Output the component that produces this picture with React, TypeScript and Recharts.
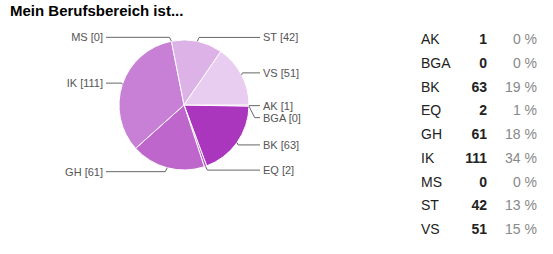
import React from 'react';
import { PieChart, Pie, Cell } from 'recharts';

const categories = ['AK', 'BGA', 'BK', 'EQ', 'GH', 'IK', 'MS', 'ST', 'VS'];
const counts = [1, 0, 63, 2, 61, 111, 0, 42, 51];
const percents = ['0 %', '0 %', '19 %', '1 %', '18 %', '34 %', '0 %', '13 %', '15 %'];
const colors = ['#8e24aa', '#9c2db5', '#aa36bd', '#b44fc5', '#bf66cc', '#c87fd6', '#d399de', '#ddb2e6', '#e9cdf0'];

const data = categories.map((name, i) => ({ name, value: counts[i] }));

const FONT = '"Liberation Sans", Arial, sans-serif';

// simple collision handling for labels, filled in render order
let placed: { side: number; y: number }[] = [];

const renderLabel = (props: any) => {
    const { cx, cy, midAngle, outerRadius, index, name, value } = props;
    if (index === 0) placed = [];
    const rad = (-midAngle * Math.PI) / 180;
    const cos = Math.cos(rad);
    const sin = Math.sin(rad);
    const side = cos >= 0 ? 1 : -1;
    const ax = cx + outerRadius * cos;
    const ay = cy + outerRadius * sin;
    let ly = cy + (outerRadius + 4) * sin;
    for (const p of placed) {
        if (p.side === side && Math.abs(p.y - ly) < 12) ly = p.y + 12;
    }
    placed.push({ side, y: ly });
    const kx = ax + side * Math.abs(ly - ay) * 0.5;
    const tx = side > 0 ? cx + 79 : cx - 81;
    const ex = side > 0 ? tx - 3 : tx + 3;
    return (
        <g key={`lbl-${index}`}>
            <path d={`M${ax},${ay}L${kx},${ly}L${ex},${ly}`} stroke="#666" strokeWidth={1} fill="none" />
            <text x={tx} y={ly} dy={4} textAnchor={side > 0 ? 'start' : 'end'} fontSize={11} fill="#555" fontFamily={FONT}>
                {`${name} [${value}]`}
            </text>
        </g>
    );
};

export default function App() {
    return (
        <div style={{ position: 'absolute', left: 0, top: 0, width: 553, height: 254, background: '#fff', fontFamily: FONT }}>
            <div style={{ position: 'absolute', left: 0, top: 0 }}>
                <PieChart width={400} height={254} margin={{ top: 0, right: 0, bottom: 0, left: 0 }}>
                    <Pie
                        data={data}
                        dataKey="value"
                        nameKey="name"
                        cx={184}
                        cy={105}
                        outerRadius={65}
                        startAngle={0}
                        endAngle={-360}
                        stroke="#fff"
                        strokeWidth={1}
                        label={renderLabel}
                        labelLine={false}
                        isAnimationActive={false}
                    >
                        {data.map((d, i) => (
                            <Cell key={d.name} fill={colors[i]} />
                        ))}
                    </Pie>
                </PieChart>
            </div>
            <div style={{ position: 'absolute', left: 10, top: 2, fontSize: 15, lineHeight: '17px', fontWeight: 'bold', color: '#000', whiteSpace: 'nowrap' }}>
                Mein Berufsbereich ist...
            </div>
            <div style={{ position: 'absolute', left: 0, top: 28, fontSize: 14 }}>
                {categories.map((c, i) => (
                    <div key={c} style={{ position: 'relative', height: 23.75, lineHeight: '23.75px', width: 553 }}>
                        <span style={{ position: 'absolute', left: 421, color: '#222' }}>{c}</span>
                        <span style={{ position: 'absolute', right: 553 - 487, fontWeight: 'bold', color: '#222' }}>{counts[i]}</span>
                        <span style={{ position: 'absolute', right: 553 - 537, color: '#888' }}>{percents[i]}</span>
                    </div>
                ))}
            </div>
        </div>
    );
}
